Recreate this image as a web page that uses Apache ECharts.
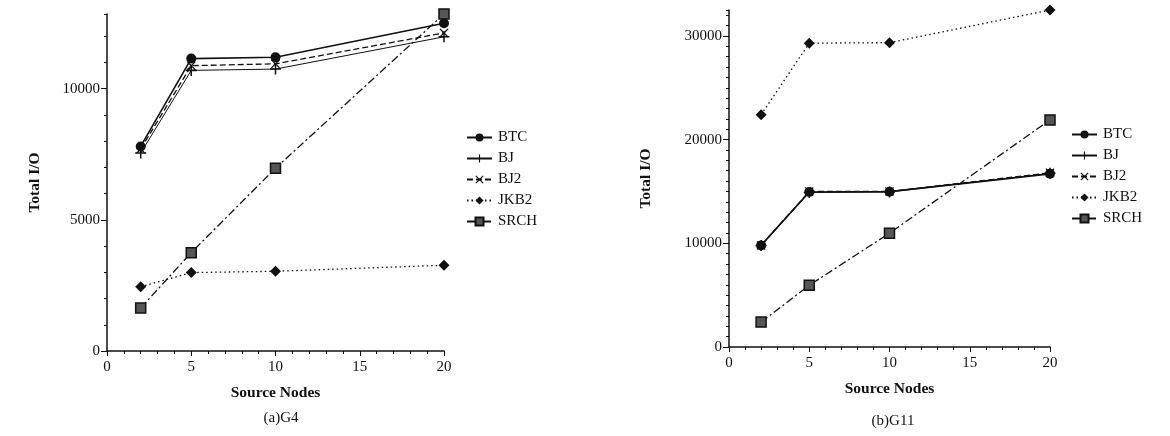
<!DOCTYPE html>
<html>
<head>
<meta charset="utf-8">
<script src="https://cdn.jsdelivr.net/npm/echarts@6/dist/echarts.min.js"></script>
<style>
html,body{margin:0;padding:0;background:#fff;}
#c{width:1170px;height:436px;}
</style>
</head>
<body>
<div id="c"></div>
<script>
// ---- data ----
const xs = [2, 5, 10, 20];
const seriesNames = ['BTC', 'BJ', 'BJ2', 'JKB2', 'SRCH'];
// (a) G4
const g4BTC  = [7800, 11150, 11200, 12500];
const g4BJ   = [7550, 10700, 10750, 11980];
const g4BJ2  = [7700, 10880, 10950, 12130];
const g4JKB2 = [2450, 2990, 3040, 3270];
const g4SRCH = [1640, 3750, 6970, 12850];
// (b) G11
const g11BTC  = [9800, 14950, 14980, 16700];
const g11BJ   = [9790, 14900, 14950, 16750];
const g11BJ2  = [9800, 15000, 15000, 16800];
const g11JKB2 = [22400, 29300, 29350, 32500];
const g11SRCH = [2400, 5950, 10980, 21900];
// tick labels
const xTicks = [0, 5, 10, 15, 20];
const g4YTicks = [0, 5000, 10000];
const g11YTicks = [0, 10000, 20000, 30000];

const FONT = 'Liberation Serif';
const pairs = arr => arr.map((v, i) => [xs[i], v]);

const styles = {
  BTC:  {symbol: 'circle', symbolSize: 10, line: {type: 'solid', width: 1.6}, item: {color: '#111'}},
  BJ:   {symbol: 'path://M4.3,0H5.7V4.3H10V5.7H5.7V10H4.3V5.7H0V4.3H4.3Z', symbolSize: 11, line: {type: 'solid', width: 1}, item: {color: '#111'}},
  BJ2:  {symbol: 'path://M1,0L5,4L9,0L10,1L6,5L10,9L9,10L5,6L1,10L0,9L4,5L0,1Z', symbolSize: 9, line: {type: [6, 3], width: 1.3}, item: {color: '#111'}},
  JKB2: {symbol: 'diamond', symbolSize: 11, line: {type: [1.5, 3], width: 1.3}, item: {color: '#111'}},
  SRCH: {symbol: 'rect', symbolSize: 10, line: {type: [8, 3, 2, 3], width: 1.3}, item: {color: '#555', borderColor: '#111', borderWidth: 1.5}}
};

function mkSeries(name, data, idx) {
  const s = styles[name];
  return {
    name: name, type: 'line', xAxisIndex: idx, yAxisIndex: idx * 2,
    data: pairs(data), symbol: s.symbol, symbolSize: s.symbolSize,
    showSymbol: true, animation: false,
    lineStyle: Object.assign({color: '#111'}, s.line),
    itemStyle: s.item, z: 3
  };
}

const labelStyle = {fontFamily: FONT, fontSize: 15, color: '#111', formatter: v => String(v)};
const nameStyle = {fontFamily: FONT, fontSize: 15.5, fontWeight: 'bold', color: '#111'};

function xAxisDef(idx, gap) {
  return {
    type: 'value', gridIndex: idx, min: 0, max: 20, interval: 5,
    name: 'Source Nodes', nameLocation: 'middle', nameGap: gap,
    nameTextStyle: nameStyle,
    axisLine: {show: true, onZero: false, lineStyle: {color: '#111', width: 1.5}},
    axisTick: {show: true, length: 5, lineStyle: {color: '#111'}},
    minorTick: {show: true, splitNumber: 5, length: 3, lineStyle: {color: '#111'}},
    axisLabel: Object.assign({margin: 9}, labelStyle),
    splitLine: {show: false}
  };
}

function yAxesDef(idx, max, interval, gap) {
  return [{
    type: 'value', gridIndex: idx, min: 0, max: max, interval: interval,
    name: 'Total I/O', nameLocation: 'middle', nameGap: gap, nameRotate: 90,
    nameTextStyle: nameStyle,
    axisLine: {show: true, onZero: false, lineStyle: {color: '#111', width: 1.5}},
    axisTick: {show: true, length: 6, lineStyle: {color: '#111'}},
    axisLabel: Object.assign({margin: 7, showMaxLabel: false}, labelStyle),
    splitLine: {show: false}
  }, {
    type: 'value', gridIndex: idx, min: 0, max: max, interval: 1000,
    position: 'left',
    axisLine: {show: false},
    axisTick: {show: true, length: 3, lineStyle: {color: '#111'}},
    axisLabel: {show: false},
    splitLine: {show: false}
  }];
}

function legendDef(left, top) {
  return {
    orient: 'vertical', left: left, top: top, itemWidth: 25, itemHeight: 10,
    itemGap: 6, selectedMode: false, data: seriesNames,
    textStyle: {fontFamily: FONT, fontSize: 15, color: '#111', padding: [0, 0, 0, 1]}
  };
}

const chart = echarts.init(document.getElementById('c'), null, {renderer: 'canvas'});
chart.setOption({
  backgroundColor: '#fff',
  animation: false,
  grid: [
    {left: 107, top: 14, width: 337, height: 337},
    {left: 729, top: 10, width: 321, height: 337}
  ],
  xAxis: [xAxisDef(0, 34), xAxisDef(1, 34)],
  yAxis: yAxesDef(0, 12850, 5000, 64).concat(yAxesDef(1, 32500, 10000, 75)),
  legend: [legendDef(461, 125), legendDef(1066, 122)],
  title: [
    {text: '(a)G4', left: 276, top: 406, textAlign: 'center',
     textStyle: {fontFamily: FONT, fontSize: 15, fontWeight: 'normal', color: '#111'}},
    {text: '(b)G11', left: 888, top: 409, textAlign: 'center',
     textStyle: {fontFamily: FONT, fontSize: 15, fontWeight: 'normal', color: '#111'}}
  ],
  series: [
    mkSeries('BTC', g4BTC, 0), mkSeries('BJ', g4BJ, 0), mkSeries('BJ2', g4BJ2, 0),
    mkSeries('JKB2', g4JKB2, 0), mkSeries('SRCH', g4SRCH, 0),
    mkSeries('BTC', g11BTC, 1), mkSeries('BJ', g11BJ, 1), mkSeries('BJ2', g11BJ2, 1),
    mkSeries('JKB2', g11JKB2, 1), mkSeries('SRCH', g11SRCH, 1)
  ]
});
</script>
</body>
</html>
